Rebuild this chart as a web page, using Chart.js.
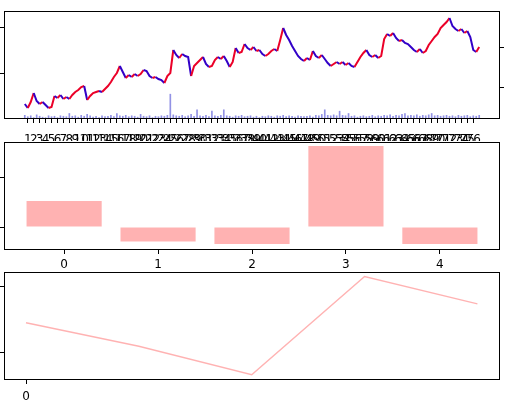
<!DOCTYPE html>
<html>
<head>
<meta charset="utf-8">
<script src="https://cdn.jsdelivr.net/npm/chart.js@4"></script>
<style>
html, body { margin: 0; padding: 0; background: #fff; }
#wrap { position: relative; width: 509px; height: 406px; overflow: hidden; }
canvas { position: absolute; left: 0; top: 0; }
</style>
</head>
<body>
<div id="wrap">
  <canvas id="priceChart" width="509" height="406"></canvas>
  <canvas id="barChart" width="509" height="406"></canvas>
  <canvas id="lineChart" width="509" height="406"></canvas>
</div>
<script>
// price samples (left to right)
const priceClose = [
  15, 11, 17, 26, 18, 15, 17, 14, 11, 12,
  23, 21, 24, 20, 22, 20, 24, 27, 29, 32,
  33, 19, 23, 26, 27, 28, 27, 30, 33, 37,
  42, 46, 53, 47, 41, 44, 42, 45, 43, 45,
  49, 48, 43, 41, 42, 40, 39, 36, 43, 46,
  69, 64, 61, 65, 63, 62, 43, 53, 56, 59,
  62, 55, 52, 53, 59, 62, 60, 63, 58, 52,
  57, 71, 66, 67, 75, 71, 69, 72, 68, 69,
  65, 63, 65, 68, 70, 68, 79, 91, 84, 79,
  73, 68, 63, 60, 58, 61, 59, 68, 63, 61,
  64, 60, 56, 53, 55, 57, 55, 57, 54, 56,
  53, 52, 57, 62, 66, 69, 64, 62, 64, 61,
  63, 80, 85, 83, 86, 81, 78, 79, 76, 75,
  72, 69, 67, 70, 66, 68, 74, 78, 82, 85,
  91, 94, 97, 101, 93, 90, 88, 90, 86, 88,
  82, 69, 67, 72
];
const volume = [
  0.08, 0.05, 0.07, 0.03, 0.09, 0.06, 0.04, 0.03, 0.07, 0.05,
  0.06, 0.03, 0.07, 0.06, 0.05, 0.12, 0.06, 0.07, 0.04, 0.08,
  0.06, 0.10, 0.07, 0.04, 0.06, 0.03, 0.07, 0.05, 0.06, 0.08,
  0.05, 0.12, 0.07, 0.06, 0.08, 0.05, 0.07, 0.06, 0.04, 0.10,
  0.06, 0.05, 0.07, 0.03, 0.06, 0.05, 0.07, 0.06, 0.08, 0.54,
  0.09, 0.07, 0.06, 0.08, 0.05, 0.07, 0.10, 0.06, 0.20, 0.07,
  0.06, 0.08, 0.05, 0.17, 0.07, 0.06, 0.08, 0.20, 0.07, 0.06,
  0.04, 0.07, 0.06, 0.08, 0.05, 0.06, 0.07, 0.04, 0.06, 0.03,
  0.06, 0.05, 0.07, 0.06, 0.04, 0.07, 0.06, 0.08, 0.05, 0.07,
  0.06, 0.04, 0.07, 0.06, 0.05, 0.06, 0.07, 0.04, 0.08, 0.07,
  0.10, 0.20, 0.08, 0.07, 0.09, 0.07, 0.17, 0.08, 0.07, 0.12,
  0.06, 0.07, 0.04, 0.06, 0.07, 0.05, 0.06, 0.08, 0.05, 0.07,
  0.06, 0.08, 0.07, 0.09, 0.06, 0.08, 0.07, 0.10, 0.12, 0.07,
  0.08, 0.07, 0.09, 0.06, 0.08, 0.07, 0.09, 0.12, 0.07, 0.08,
  0.06, 0.07, 0.08, 0.06, 0.07, 0.05, 0.08, 0.06, 0.07, 0.08,
  0.05, 0.07, 0.06, 0.08
];
const priceTicks = [32, 72];
const volumeTicks = [1, 2];

// one x tick every second sample, labelled 1, 2, 3 ...
const dayTickPos = [];
const dayTickLabels = [];
for (let k = 0; k < 76; k++) {
  dayTickPos.push(2 * k + 1);
  dayTickLabels.push(String(k + 1));
}

const barCategories = [0, 1, 2, 3, 4];
const barValues = [0.52, -0.29, -0.34, 1.62, -0.34];
const lineValues = [0.45, 0.09, -0.35, 1.16, 0.74];

const FONT = { family: "'DejaVu Sans', sans-serif", size: 12 };
const UP = 'rgb(235, 0, 40)';
const DOWN = 'rgb(50, 0, 200)';
const PINK = 'rgba(255, 0, 0, 0.3)';

Chart.defaults.animation = false;
Chart.defaults.font = FONT;
Chart.defaults.color = '#000';

// black box round the plot area
const framePlugin = {
  id: 'frame',
  afterDraw(chart) {
    const a = chart.chartArea;
    const ctx = chart.ctx;
    ctx.save();
    ctx.strokeStyle = '#000';
    ctx.lineWidth = 1;
    ctx.strokeRect(Math.round(a.left) + 0.5, Math.round(a.top) + 0.5,
      Math.round(a.right - a.left) - 1, Math.round(a.bottom - a.top) - 1);
    ctx.restore();
  }
};

function setTicks(values) {
  return scale => { scale.ticks = values.map(v => ({ value: v })); };
}

// axis that only shows small outside tick marks
function markAxis(opts) {
  return Object.assign({
    type: 'linear',
    offset: false,
    bounds: 'data',
    border: { display: false },
    grid: { display: true, offset: false, drawOnChartArea: false, drawTicks: true, tickLength: 4, color: '#000' },
    ticks: { display: false }
  }, opts);
}

function xAxis(opts, labelPad, height, callback) {
  const ticks = { display: true, autoSkip: false, maxRotation: 0, minRotation: 0, padding: labelPad, font: FONT, color: '#000' };
  if (callback) ticks.callback = callback;
  return markAxis(Object.assign({
    position: 'bottom',
    ticks: ticks,
    afterFit: s => { s.height = height; }
  }, opts));
}

const commonPlugins = { legend: { display: false }, tooltip: { enabled: false } };

// Panel 1: price line + volume
new Chart(document.getElementById('priceChart'), {
  type: 'bar',
  data: {
    datasets: [
      {
        type: 'line',
        data: priceClose.map((v, i) => ({ x: i, y: v })),
        yAxisID: 'price',
        borderWidth: 2,
        pointRadius: 0,
        tension: 0,
        borderColor: UP,
        segment: {
          borderColor: c => (c.p1.parsed.y >= c.p0.parsed.y ? UP : DOWN)
        },
        order: 1
      },
      {
        type: 'bar',
        data: volume.map((v, i) => ({ x: i, y: v })),
        yAxisID: 'vol',
        backgroundColor: 'rgba(110, 110, 220, 0.75)',
        barThickness: 1,
        order: 2
      }
    ]
  },
  options: {
    responsive: false,
    layout: { padding: { top: 11, left: 0, right: 5, bottom: 265 } },
    plugins: commonPlugins,
    scales: {
      x: xAxis({ min: -7, max: 160, afterBuildTicks: setTicks(dayTickPos) }, 10, 22, (v, i) => dayTickLabels[i]),
      vol: markAxis({ position: 'left', min: 0, max: 2.35, afterBuildTicks: setTicks(volumeTicks), afterFit: s => { s.width = 4; } }),
      price: markAxis({ position: 'right', min: 0, max: 108, afterBuildTicks: setTicks(priceTicks), afterFit: s => { s.width = 4; } })
    }
  },
  plugins: [framePlugin]
});

// Panel 2: bars
new Chart(document.getElementById('barChart'), {
  type: 'bar',
  data: {
    datasets: [{
      data: barCategories.map((c, i) => ({ x: c, y: barValues[i] })),
      backgroundColor: PINK,
      barPercentage: 0.8,
      categoryPercentage: 1
    }]
  },
  options: {
    responsive: false,
    layout: { padding: { top: 142, left: 0, right: 9, bottom: 134 } },
    plugins: commonPlugins,
    scales: {
      x: xAxis({ min: -0.64, max: 4.64, afterBuildTicks: setTicks(barCategories) }, 4, 22),
      y: markAxis({ position: 'left', min: -0.46, max: 1.7, afterBuildTicks: setTicks([0, 1]), afterFit: s => { s.width = 4; } })
    }
  },
  plugins: [framePlugin]
});

// Panel 3: line
new Chart(document.getElementById('lineChart'), {
  type: 'line',
  data: {
    datasets: [{
      data: barCategories.map((c, i) => ({ x: c, y: lineValues[i] })),
      borderColor: PINK,
      borderWidth: 1.5,
      pointRadius: 0,
      tension: 0
    }]
  },
  options: {
    responsive: false,
    layout: { padding: { top: 272, left: 0, right: 9, bottom: 0 } },
    plugins: commonPlugins,
    scales: {
      x: xAxis({ min: -0.195, max: 4.2, afterBuildTicks: setTicks([0]) }, 6, 26),
      y: markAxis({ position: 'left', min: -0.43, max: 1.23, afterBuildTicks: setTicks([0, 1]), afterFit: s => { s.width = 4; } })
    }
  },
  plugins: [framePlugin]
});
</script>
</body>
</html>
